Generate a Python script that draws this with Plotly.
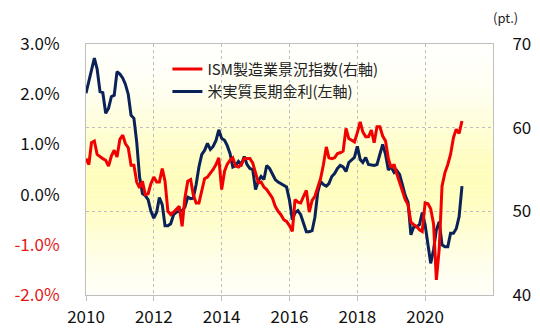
import numpy as np
import pandas as pd
import plotly.graph_objects as go

# ---- data (monthly, Jan 2010 - Feb 2021) ----
ism = [56.3, 55.6, 58.2, 58.4, 56.8, 56.5, 56.3, 56.1, 55.4, 56.6, 57.3, 56.5,
       58.6, 59.1, 58.1, 57.6, 55.5, 55.5, 53.5, 52.8, 53.6, 52.0, 52.1, 53.3,
       54.1, 53.5, 53.5, 55.1, 53.6, 50.0, 49.6, 49.9, 50.2, 50.6, 48.2, 51.6,
       53.6, 53.8, 52.0, 51.0, 51.0, 52.6, 53.9, 54.1, 54.5, 55.0, 55.6, 56.4,
       52.6, 54.8, 55.6, 56.1, 56.4, 55.4, 55.3, 55.6, 56.3, 56.3, 56.3, 55.8,
       54.5, 53.4, 53.5, 52.9, 52.6, 52.1, 51.6, 50.6, 50.0, 49.6, 49.0, 48.8,
       48.3, 47.6, 51.4, 51.1, 51.0, 51.8, 52.5, 49.9, 51.3, 51.8, 52.8, 53.9,
       55.6, 57.7, 56.4, 56.3, 56.4, 56.9, 57.0, 57.2, 59.9, 58.7, 58.5, 58.3,
       59.4, 60.7, 59.5, 58.9, 58.9, 59.7, 58.2, 60.1, 60.1, 59.0, 58.4, 56.3,
       55.2, 55.6, 54.5, 53.5, 52.3, 51.4, 50.8, 48.7, 48.4, 48.2, 47.8, 47.6,
       51.0, 50.9, 50.3, 48.5, 41.8, 45.5, 53.0, 54.6, 55.6, 56.8, 58.8, 59.8,
       59.3, 60.8]

real_rate = [2.02, 2.25, 2.50, 2.72, 2.50, 2.05, 2.03, 1.62, 1.72, 1.95, 1.98, 2.45,
             2.40, 2.32, 2.20, 2.00, 1.58, 1.52, 1.05, 0.35, 0.02, -0.02, -0.10, -0.33,
             -0.47, -0.35, -0.06, -0.20, -0.62, -0.62, -0.58, -0.40, -0.35, -0.34, -0.32, -0.25,
             -0.05, -0.08, -0.07, 0.20, 0.55, 0.80, 0.88, 1.02, 0.90, 0.96, 1.08, 1.29,
             1.12, 1.08, 0.98, 0.82, 0.55, 0.58, 0.66, 0.60, 0.76, 0.60, 0.52, 0.50,
             0.10, 0.28, 0.36, 0.30, 0.58, 0.52, 0.40, 0.30, 0.25, 0.22, 0.19, 0.15,
             -0.11, -0.50, -0.36, -0.32, -0.40, -0.60, -0.74, -0.74, -0.72, -0.45, 0.05, 0.26,
             0.20, 0.17, 0.22, 0.36, 0.42, 0.52, 0.58, 0.55, 0.46, 0.64, 0.69, 0.74,
             0.96, 0.70, 0.64, 0.74, 0.60, 0.59, 0.58, 0.60, 0.80, 1.00, 0.80, 0.49,
             0.55, 0.44, 0.48, 0.40, 0.20, -0.02, -0.15, -0.80, -0.64, -0.64, -0.60, -0.36,
             -0.60, -1.04, -1.37, -1.10, -0.70, -0.54, -1.00, -1.04, -1.04, -0.77, -0.77, -0.68,
             -0.44, 0.17]

dates = pd.date_range("2010-01-01", periods=len(ism), freq="MS")

x_tick_years = [2010, 2012, 2014, 2016, 2018, 2020]
left_ticks = [-2, -1, 0, 1, 2, 3]
left_labels = ["-2.0%", "-1.0%", "0.0%", "1.0%", "2.0%", "3.0%"]
right_ticks = [40, 50, 60, 70]
ism_name = "ISM製造業景況指数(右軸)"
rate_name = "米実質長期金利(左軸)"

RED = "#F00000"
NAVY = "#0B2258"
GRID = "#BFBFBF"
FONT = "Noto Sans CJK JP"

left_text = [f'<span style="color:#E01818">{t}</span>' if v < 0 else t
             for v, t in zip(left_ticks, left_labels)]

fig = go.Figure()
fig.add_trace(go.Scatter(x=dates, y=real_rate, name=rate_name, yaxis="y",
                         mode="lines", line=dict(color=NAVY, width=3), legendrank=2))
fig.add_trace(go.Scatter(x=dates, y=ism, name=ism_name, yaxis="y2",
                         mode="lines", line=dict(color=RED, width=3), legendrank=1))

# vertical gradient background (white -> light yellow -> white)
n = 60
shapes = []
for i in range(n):
    t = (i + 0.5) / n  # 0 top, 1 bottom
    w = np.exp(-((t - 0.55) / 0.3) ** 2)
    b = int(round(255 - 68 * w))
    g = int(round(255 - 2 * w))
    shapes.append(dict(type="rect", xref="paper", yref="paper",
                       x0=0, x1=1, y0=1 - (i + 1) / n, y1=1 - i / n,
                       fillcolor=f"rgb(255,{g},{b})", line=dict(width=0),
                       layer="below"))

fig.update_layout(
    width=540, height=333,
    margin=dict(l=86, r=47, t=44, b=38, autoexpand=False),
    paper_bgcolor="white", plot_bgcolor="white",
    font=dict(family=FONT, size=17, color="#111111"),
    shapes=shapes,
    showlegend=True,
    legend=dict(x=0.2, y=0.965, xanchor="left", yanchor="top",
                bgcolor="rgba(0,0,0,0)", font=dict(size=15, color="#222222"),
                traceorder="normal", itemwidth=30, tracegroupgap=0),
    xaxis=dict(type="date", range=["2010-01-01", "2022-01-01"],
               tickvals=[f"{y}-01-01" for y in x_tick_years],
               ticktext=[str(y) for y in x_tick_years],
               showgrid=True, gridcolor=GRID, griddash="3px,3px", gridwidth=1,
               showline=True, linecolor=GRID, linewidth=1, mirror=True,
               ticks="outside", ticklen=5, tickcolor=GRID,
               zeroline=False, ticklabelstandoff=2, automargin=False),
    yaxis=dict(range=[-2, 3], tickvals=left_ticks, ticktext=left_text,
               showgrid=False, zeroline=False, showline=True, linecolor=GRID,
               ticks="", ticklabelstandoff=22, automargin=False),
    yaxis2=dict(range=[40, 70], tickvals=right_ticks, overlaying="y", side="right",
                showgrid=True, gridcolor=GRID, griddash="3px,3px", gridwidth=1,
                zeroline=False, showline=True, linecolor=GRID, ticks="",
                ticklabelstandoff=15, automargin=False),
    yaxis3=dict(range=[-2, 3], tickvals=left_ticks, overlaying="y", side="right",
                showgrid=False, zeroline=False, showline=False, showticklabels=False,
                ticks="outside", ticklen=7, tickcolor=GRID, automargin=False),
    yaxis4=dict(range=[-2, 3], tickvals=[-2, 3], overlaying="y", side="left",
                showgrid=False, zeroline=False, showline=False, showticklabels=False,
                ticks="outside", ticklen=6, tickcolor=GRID, automargin=False),
    annotations=[dict(text="(pt.)", xref="paper", yref="paper", x=1.03, y=1.105,
                      xanchor="center", yanchor="middle", showarrow=False,
                      font=dict(size=13, color="#222222"))],
)

fig.write_html("out.html")
